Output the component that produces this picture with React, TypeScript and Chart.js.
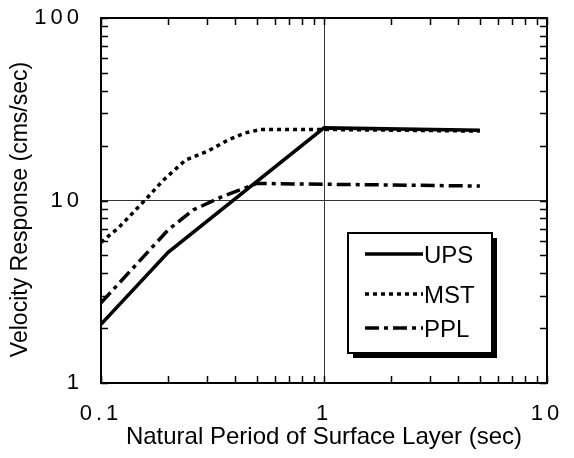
import React, { useEffect, useRef } from "react";
import { Chart, registerables } from "chart.js";

Chart.register(...registerables);

// ---- data ----
const seriesNames = ["UPS", "MST", "PPL"];

const upsPeriods = [0.1, 0.2, 1, 5];
const upsValues = [2.1, 5.2, 25, 24.3];

const mstPeriods = [0.1, 0.12, 0.157, 0.19, 0.24, 0.3, 0.37, 0.44, 0.52, 1, 5];
const mstValues = [5.9, 7.1, 10, 12.9, 16.7, 18.6, 21.4, 23.4, 24.5, 24.5, 24];

const pplPeriods = [0.1, 0.2, 0.26, 0.35, 0.45, 0.5, 5];
const pplValues = [2.75, 6.9, 8.9, 10.5, 11.8, 12.4, 12.0];

const xTickValues = [0.1, 0.2, 0.3, 0.4, 0.5, 0.6, 0.7, 0.8, 0.9, 1, 2, 3, 4, 5, 6, 7, 8, 9, 10];
const yTickValues = [1, 2, 3, 4, 5, 6, 7, 8, 9, 10, 20, 30, 40, 50, 60, 70, 80, 90, 100];
const xTickLabels = [
  { value: 0.1, text: "0.1" },
  { value: 1, text: "1" },
  { value: 10, text: "10" },
];
const yTickLabels = [
  { value: 1, text: "1" },
  { value: 10, text: "10" },
  { value: 100, text: "100" },
];
const xGridValues = [1];
const yGridValues = [10];

const xTitle = "Natural Period of Surface Layer (sec)";
const yTitle = "Velocity Response (cms/sec)";

const FONT = '"Liberation Sans", Arial, Helvetica, sans-serif';

const toPoints = (xs: number[], ys: number[]) => xs.map((x, i) => ({ x, y: ys[i] }));

const framePlugin = {
  id: "frameAndExtras",
  afterDraw(chart: any) {
    const { ctx, chartArea } = chart;
    const xs = chart.scales.x;
    const ys = chart.scales.y;
    const { left, right, top, bottom } = chartArea;
    ctx.save();
    ctx.strokeStyle = "#000";
    // inward tick marks
    ctx.lineWidth = 1.5;
    const tl = 7;
    ctx.beginPath();
    xTickValues.forEach((v) => {
      const px = Math.round(xs.getPixelForValue(v)) + 0.5;
      ctx.moveTo(px, bottom);
      ctx.lineTo(px, bottom - tl);
      ctx.moveTo(px, top);
      ctx.lineTo(px, top + tl);
    });
    yTickValues.forEach((v) => {
      const py = Math.round(ys.getPixelForValue(v)) + 0.5;
      ctx.moveTo(left, py);
      ctx.lineTo(left + tl, py);
      ctx.moveTo(right, py);
      ctx.lineTo(right - tl, py);
    });
    ctx.stroke();
    // frame
    ctx.lineWidth = 2;
    ctx.strokeRect(left, top, right - left, bottom - top);

    // tick labels (wide tracking like the reference)
    ctx.fillStyle = "#000";
    ctx.font = `22px ${FONT}`;
    (ctx as any).letterSpacing = "4px";
    ctx.textBaseline = "middle";
    ctx.textAlign = "right";
    yTickLabels.forEach((t) => {
      const py = ys.getPixelForValue(t.value);
      ctx.fillText(t.text, left - 18, py);
    });
    ctx.textAlign = "center";
    xTickLabels.forEach((t) => {
      const px = xs.getPixelForValue(t.value);
      ctx.fillText(t.text, px, bottom + 31);
    });
    (ctx as any).letterSpacing = "0px";

    // y axis title
    ctx.save();
    ctx.translate(21, (top + bottom) / 2 + 9);
    ctx.rotate(-Math.PI / 2);
    ctx.font = `23px ${FONT}`;
    ctx.textAlign = "center";
    ctx.textBaseline = "middle";
    ctx.fillText(yTitle, 0, 0);
    ctx.restore();

    // legend box with drop shadow
    const bw = 144;
    const bh = 120;
    const bx = right - 55 - bw;
    const by = bottom - 30 - bh;
    ctx.fillStyle = "#000";
    ctx.fillRect(bx + 5, by + 5, bw, bh);
    ctx.fillStyle = "#fff";
    ctx.fillRect(bx, by, bw, bh);
    ctx.lineWidth = 2;
    ctx.strokeStyle = "#000";
    ctx.strokeRect(bx, by, bw, bh);
    const rowY = [by + 21, by + 61, by + 95];
    chart.data.datasets.forEach((ds: any, i: number) => {
      const y = rowY[i];
      ctx.save();
      ctx.beginPath();
      ctx.setLineDash(ds.borderDash || []);
      ctx.lineWidth = ds.borderWidth;
      ctx.lineCap = "butt";
      ctx.moveTo(bx + 17, y);
      ctx.lineTo(bx + 75, y);
      ctx.stroke();
      ctx.restore();
      ctx.fillStyle = "#000";
      ctx.font = `24px ${FONT}`;
      ctx.textAlign = "left";
      ctx.textBaseline = "middle";
      ctx.fillText(ds.label, bx + 76, y + 2);
    });
    ctx.restore();
  },
};

export default function App() {
  const canvasRef = useRef<HTMLCanvasElement | null>(null);

  useEffect(() => {
    if (!canvasRef.current) return;
    Chart.defaults.font.family = FONT;
    Chart.defaults.color = "#000";
    const chart = new Chart(canvasRef.current, {
      type: "line",
      data: {
        datasets: [
          {
            label: seriesNames[0],
            data: toPoints(upsPeriods, upsValues),
            borderColor: "#000",
            borderWidth: 3.5,
            borderDash: [],
            pointRadius: 0,
            tension: 0,
            fill: false,
          },
          {
            label: seriesNames[1],
            data: toPoints(mstPeriods, mstValues),
            borderColor: "#000",
            borderWidth: 3.5,
            borderDash: [4, 4],
            pointRadius: 0,
            tension: 0,
            fill: false,
          },
          {
            label: seriesNames[2],
            data: toPoints(pplPeriods, pplValues),
            borderColor: "#000",
            borderWidth: 3.5,
            borderDash: [14, 5, 4, 5],
            pointRadius: 0,
            tension: 0,
            fill: false,
          },
        ] as any,
      },
      options: {
        animation: false,
        responsive: true,
        maintainAspectRatio: false,
        layout: { padding: { top: 18, right: 27, left: 0, bottom: 0 } },
        plugins: {
          legend: { display: false },
          tooltip: { enabled: false },
        },
        scales: {
          x: {
            type: "logarithmic",
            min: 0.1,
            max: 10,
            afterBuildTicks: (s: any) => {
              s.ticks = xTickValues.map((v) => ({ value: v }));
            },
            afterFit: (s: any) => {
              s.height = 75;
            },
            ticks: { display: false },
            grid: {
              drawTicks: false,
              lineWidth: 1,
              color: (c: any) => (xGridValues.includes(c.tick?.value) ? "#333" : "rgba(0,0,0,0)"),
            },
            border: { display: false },
            title: {
              display: true,
              text: xTitle,
              color: "#000",
              font: { size: 24, family: FONT },
              padding: { top: 0, bottom: 6 },
            },
          },
          y: {
            type: "logarithmic",
            min: 1,
            max: 100,
            afterBuildTicks: (s: any) => {
              s.ticks = yTickValues.map((v) => ({ value: v }));
            },
            afterFit: (s: any) => {
              s.width = 101;
            },
            ticks: { display: false },
            grid: {
              drawTicks: false,
              lineWidth: 1,
              color: (c: any) => (yGridValues.includes(c.tick?.value) ? "#333" : "rgba(0,0,0,0)"),
            },
            border: { display: false },
            title: { display: false, text: yTitle },
          },
        },
      } as any,
      plugins: [framePlugin],
    });
    return () => chart.destroy();
  }, []);

  return (
    <div style={{ position: "absolute", left: 0, top: 0, width: 574, height: 458, background: "#fff" }}>
      <canvas ref={canvasRef} />
    </div>
  );
}
